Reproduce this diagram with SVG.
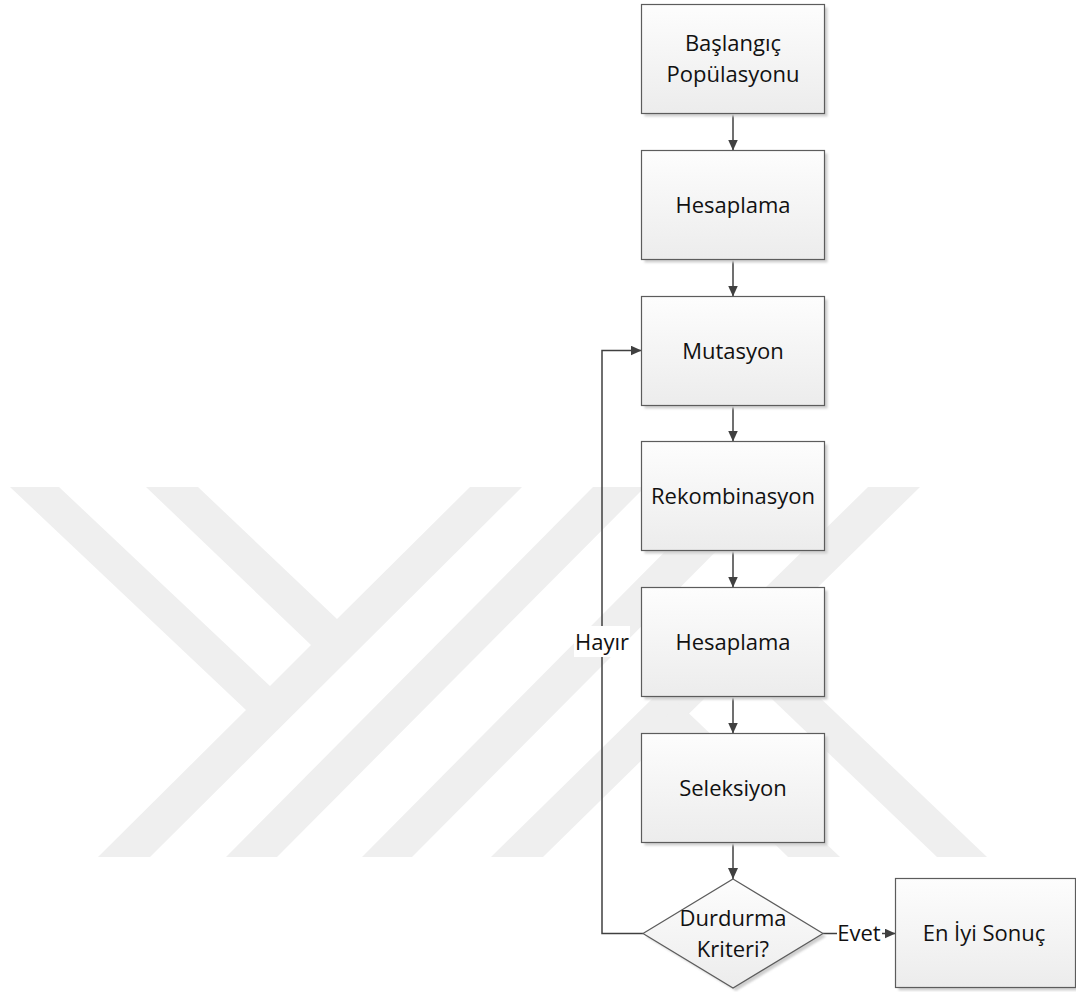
<svg xmlns="http://www.w3.org/2000/svg" width="1076" height="992" viewBox="0 0 1076 992">
  <style>
    .box { fill: url(#boxfill); stroke: #5c5c5c; stroke-width: 1.2; }
    .shadow { fill: #cfcfcf; filter: url(#blur); }
    .lbl { font-family: "Open Sans", "Liberation Sans", sans-serif; font-size: 22px; fill: #111111; text-anchor: middle; }
    .conn { fill: none; stroke: #404040; stroke-width: 1.5; }
    .wm { fill: #efefef; }
  </style>
  <defs>
    <linearGradient id="boxfill" x1="0" y1="0" x2="0" y2="1">
      <stop offset="0" stop-color="#fdfdfd"/>
      <stop offset="1" stop-color="#ececec"/>
    </linearGradient>
    <filter id="blur" x="-10%" y="-10%" width="120%" height="120%">
      <feGaussianBlur stdDeviation="1"/>
    </filter>
    <marker id="arr" viewBox="0 0 11 10" refX="11" refY="5" markerWidth="11" markerHeight="10" markerUnits="userSpaceOnUse" orient="auto">
      <path d="M0,0 L11,5 L0,10 z" fill="#404040"/>
    </marker>
  </defs>
  <rect width="1076" height="992" fill="#ffffff"/>

  <g id="watermark">
    <polygon class="wm" points="10,487 59,487 270,686 311,645 146,487 198,487 337,619 470,487 522,487 150,857 98,857 246,710"/>
    <polygon class="wm" points="593,487 645,487 277,857 226,857"/>
    <polygon class="wm" points="729,487 780,487 412,857 362,857"/>
    <polygon class="wm" points="868,487 920,487 543,857 491,857"/>
    <polygon class="wm" points="727,656 751,632 987,857 937,857"/>
    <polygon class="wm" points="656,728 678,703 840,857 788,857"/>
  </g>

  <g id="connectors">
    <line class="conn" x1="733" y1="113.5" x2="733" y2="150.5" marker-end="url(#arr)"/>
    <line class="conn" x1="733" y1="259.5" x2="733" y2="296.5" marker-end="url(#arr)"/>
    <line class="conn" x1="733" y1="405.5" x2="733" y2="441.5" marker-end="url(#arr)"/>
    <line class="conn" x1="733" y1="550.5" x2="733" y2="587.5" marker-end="url(#arr)"/>
    <line class="conn" x1="733" y1="696.5" x2="733" y2="733.5" marker-end="url(#arr)"/>
    <line class="conn" x1="733" y1="842.5" x2="733" y2="879" marker-end="url(#arr)"/>
    <path class="conn" d="M643,933.5 H602 V350.5 H641.5" marker-end="url(#arr)"/>
    <line class="conn" x1="823" y1="933.5" x2="895.5" y2="933.5" marker-end="url(#arr)"/>
    <g id="label-hayir">
      <rect x="574" y="626" width="56" height="31" fill="#ffffff"/>
      <text class="lbl" x="602" y="649.5">Hayır</text>
    </g>
    <g id="label-evet">
      <rect x="837" y="921" width="45" height="25" fill="#ffffff"/>
      <text class="lbl" x="859" y="941">Evet</text>
    </g>
  </g>

  <g id="node-baslangic">
    <rect class="shadow" x="644.5" y="7.5" width="183" height="109"/>
    <rect class="box" x="641.5" y="4.5" width="183" height="109"/>
    <text class="lbl" x="733" y="51">Başlangıç</text>
    <text class="lbl" x="733" y="82">Popülasyonu</text>
  </g>
  <g id="node-hesaplama1">
    <rect class="shadow" x="644.5" y="153.5" width="183" height="109"/>
    <rect class="box" x="641.5" y="150.5" width="183" height="109"/>
    <text class="lbl" x="733" y="212.5">Hesaplama</text>
  </g>
  <g id="node-mutasyon">
    <rect class="shadow" x="644.5" y="299.5" width="183" height="109"/>
    <rect class="box" x="641.5" y="296.5" width="183" height="109"/>
    <text class="lbl" x="733" y="358.5">Mutasyon</text>
  </g>
  <g id="node-rekombinasyon">
    <rect class="shadow" x="644.5" y="444.5" width="183" height="109"/>
    <rect class="box" x="641.5" y="441.5" width="183" height="109"/>
    <text class="lbl" x="733" y="503.5">Rekombinasyon</text>
  </g>
  <g id="node-hesaplama2">
    <rect class="shadow" x="644.5" y="590.5" width="183" height="109"/>
    <rect class="box" x="641.5" y="587.5" width="183" height="109"/>
    <text class="lbl" x="733" y="649.5">Hesaplama</text>
  </g>
  <g id="node-seleksiyon">
    <rect class="shadow" x="644.5" y="736.5" width="183" height="109"/>
    <rect class="box" x="641.5" y="733.5" width="183" height="109"/>
    <text class="lbl" x="733" y="795.5">Seleksiyon</text>
  </g>
  <g id="node-durdurma">
    <polygon class="shadow" points="736,882 826,936.5 736,991 646,936.5"/>
    <polygon class="box" points="733,879 823,933.5 733,988 643,933.5"/>
    <text class="lbl" x="733" y="926">Durdurma</text>
    <text class="lbl" x="733" y="957">Kriteri?</text>
  </g>
  <g id="node-eniyi">
    <rect class="shadow" x="898.5" y="881.5" width="180" height="109"/>
    <rect class="box" x="895.5" y="878.5" width="180" height="109"/>
    <text class="lbl" x="984" y="941">En İyi Sonuç</text>
  </g>
</svg>
